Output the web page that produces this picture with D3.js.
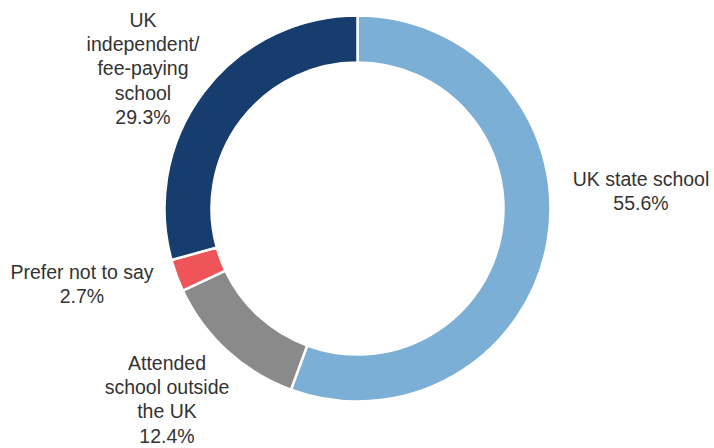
<!DOCTYPE html>
<html><head><meta charset="utf-8">
<script src="https://cdn.jsdelivr.net/npm/d3@7"></script>
<style>body{margin:0;background:#fff}svg{display:block}</style>
</head><body>
<svg id="c" width="714" height="448"></svg>
<script>
const categories = ["UK state school", "Attended school outside the UK", "Prefer not to say", "UK independent/ fee-paying school"];
const values = [55.6, 12.4, 2.7, 29.3];
const labelLines = [
  ["UK state school", "55.6%"],
  ["Attended", "school outside", "the UK", "12.4%"],
  ["Prefer not to say", "2.7%"],
  ["UK", "independent/", "fee-paying", "school", "29.3%"]
];
const colors = ["#7bafd5", "#8a8a8a", "#ef5459", "#173d6e"];
// label anchor positions (layout only)
const labelPos = [[641, 186], [167, 370], [82, 279], [143, 27]];

const svg = d3.select("#c");
const cx = 357.5, cy = 208.5, rOuter = 193, rInner = 146;
const g = svg.append("g").attr("transform", `translate(${cx},${cy})`);
const pie = d3.pie().sort(null).value(d => d)(values);
const arc = d3.arc().innerRadius(rInner).outerRadius(rOuter);
g.selectAll("path").data(pie).join("path")
  .attr("d", arc)
  .attr("fill", (d, i) => colors[i])
  .attr("stroke", "#fff").attr("stroke-width", 2.5);

const lh = 24.2;
labelLines.forEach((lines, i) => {
  const t = svg.append("text")
    .attr("x", labelPos[i][0]).attr("y", labelPos[i][1])
    .attr("text-anchor", "middle")
    .attr("font-family", "Liberation Sans, Arial, sans-serif")
    .attr("font-size", 19.5).attr("fill", "#333");
  lines.forEach((l, j) => {
    t.append("tspan").attr("x", labelPos[i][0]).attr("dy", j === 0 ? 0 : lh).text(l);
  });
});
</script>
</body></html>
